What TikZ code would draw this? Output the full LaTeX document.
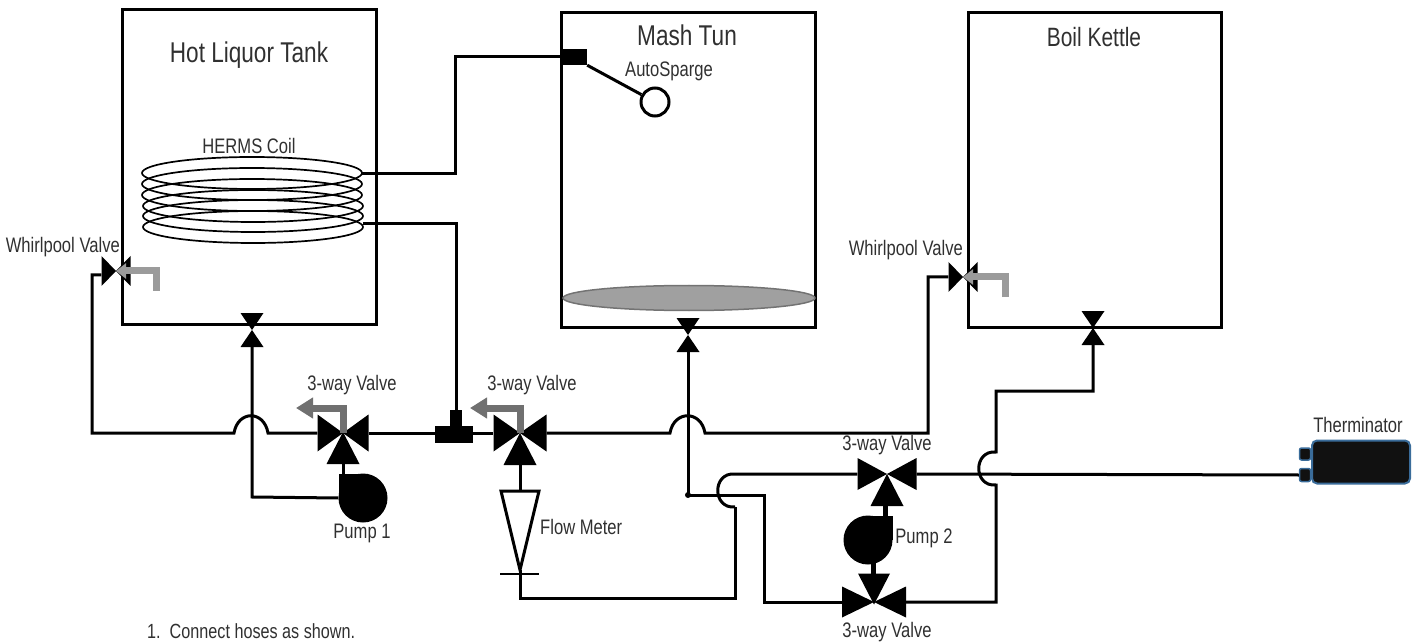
\documentclass[tikz,border=0pt]{standalone}
\usepackage{fontspec}
\setmainfont[FakeStretch=0.79]{Liberation Sans}
\usetikzlibrary{calc,arrows.meta,shapes.geometric}
\definecolor{labelgray}{HTML}{303030}
\definecolor{handlegray}{HTML}{707070}
\definecolor{discgray}{HTML}{A0A0A0}
\definecolor{chillblue}{HTML}{3A6C9A}
\definecolor{chillblack}{HTML}{111111}

\begin{document}
\begin{tikzpicture}[x=1pt,y=-1pt,
  tank/.style={rectangle,draw,line width=3pt,inner sep=0pt},
  pipe/.style={line width=3pt,line join=miter},
  lab/.style={font=\fontsize{21}{24}\selectfont,text=labelgray,inner sep=0pt},
  title/.style={font=\fontsize{28.6}{32}\selectfont,text=labelgray,inner sep=0pt},
  coil/.style={line width=1.7pt},
  hvalve/.style={rectangle,inner sep=0pt,minimum width=#1,minimum height=37pt,
    path picture={\fill (path picture bounding box.north west) -- (path picture bounding box.south east) -- (path picture bounding box.north east) -- (path picture bounding box.south west) -- cycle;}},
  wvalve/.style={rectangle,inner sep=0pt,minimum width=29pt,minimum height=30pt,
    path picture={\fill (path picture bounding box.north west) -- (path picture bounding box.south east) -- (path picture bounding box.north east) -- (path picture bounding box.south west) -- cycle;}},
  vvalve/.style={rectangle,inner sep=0pt,minimum width=23pt,minimum height=34pt,
    path picture={\fill (path picture bounding box.north west) -- (path picture bounding box.north east) -- (path picture bounding box.south west) -- (path picture bounding box.south east) -- cycle;}},
  wedgeup/.style={rectangle,inner sep=0pt,minimum width=33pt,minimum height=32pt,
    path picture={\fill (path picture bounding box.north) -- (path picture bounding box.south east) -- (path picture bounding box.south west) -- cycle;}},
  wedgedown/.style={rectangle,inner sep=0pt,minimum width=32pt,minimum height=31pt,
    path picture={\fill (path picture bounding box.south) -- (path picture bounding box.north east) -- (path picture bounding box.north west) -- cycle;}},
  handle/.style={line width=7pt,handlegray,-{Triangle[length=17pt,width=20pt]}},
  whirlhandle/.style={line width=7pt,handlegray!70!white,-{Triangle[length=10pt,width=15pt]}},
  pump/.style={circle,fill,inner sep=0pt,minimum size=49pt},
  hopup/.style={to path={.. controls ($(\tikztostart)+(4,-23)$) and ($(\tikztotarget)+(-4,-23)$) .. (\tikztotarget)}},
  hopleft/.style={to path={.. controls ($(\tikztostart)+(-23,2)$) and ($(\tikztotarget)+(-23,-2)$) .. (\tikztotarget)}},
]
\useasboundingbox (0,0) rectangle (1413,644);

% Tanks
\node[tank,minimum width=254pt,minimum height=314pt] (hlt) at (249,167) {};
\node[tank,minimum width=254pt,minimum height=314pt] (mash) at (688,170) {};
\node[tank,minimum width=253pt,minimum height=314pt] (boil) at (1094.5,170) {};
\node[title] (hltlab) at (249,55) {Hot Liquor Tank};
\node[title] (mashlab) at (687,35) {Mash Tun};
\node[title,font=\fontsize{26.5}{30}\selectfont] (boillab) at (1094,37) {Boil Kettle};

% Coil
\draw[coil] (252,173) ellipse [x radius=110,y radius=16];
\draw[coil] (252,184) ellipse [x radius=110,y radius=16];
\draw[coil] (252,195) ellipse [x radius=110,y radius=16];
\draw[coil] (253,206) ellipse [x radius=110,y radius=16];
\draw[coil] (253,216) ellipse [x radius=110,y radius=16];
\draw[coil] (253,227) ellipse [x radius=110,y radius=16];
\node[lab] (coillab) at (249,146) {HERMS Coil};
\coordinate (coilin) at (361,174);
\coordinate (coilout) at (363,224);

% Mash tun insides
\node[ellipse,draw=black!55,fill=discgray,line width=1.5pt,minimum width=252pt,minimum height=25pt,inner sep=0pt] (disc) at (689,298) {};
\node[rectangle,fill,inner sep=0pt,minimum width=26pt,minimum height=16pt] (sparge) at (574,57) {};
\node[circle,draw,line width=3pt,fill=white,minimum size=28pt,inner sep=0pt] (ball) at (655,102) {};
\node[lab] (spargelab) at (669,71) {AutoSparge};
\draw[pipe] (sparge.south east) -- (ball);

% Whirlpool valves
\node[wvalve] (whirlhlt) at (116,271) {};
\node[wvalve] (whirlboil) at (963,277) {};
\node[lab,anchor=east] (whirlhltlab) at (120,247) {Whirlpool Valve};
\node[lab,anchor=east] (whirlboillab) at (963,250) {Whirlpool Valve};
\draw[whirlhandle] (156,291) |- (whirlhlt.center);
\draw[whirlhandle] (1005,297) |- (whirlboil.center);

% Tank outlets
\node[vvalve] (outhlt) at (252,330) {};
\node[vvalve] (outmash) at (688,335) {};
\node[vvalve] (outboil) at (1093,328) {};

% 3-way valves
\node[hvalve=51pt] (way1) at (343,433) {};
\node[wedgeup] (way1w) at (343,448) {};
\node[hvalve=53pt] (way2) at (520,433) {};
\node[wedgeup] (way2w) at (520,449) {};
\node[hvalve=59pt,minimum height=32pt] (way3) at (887,474) {};
\node[wedgeup] (way3w) at (887,490) {};
\node[hvalve=64pt,minimum height=31pt] (way4) at (874,602) {};
\node[wedgedown] (way4w) at (874,589) {};
\node[lab] (way1lab) at (352,385) {3-way Valve};
\node[lab] (way2lab) at (532,385) {3-way Valve};
\node[lab] (way3lab) at (887,445) {3-way Valve};
\node[lab] (way4lab) at (887,632) {3-way Valve};
\draw[handle] (way1.center) |- (296,408);
\draw[handle] (way2.center) |- (470,408);

% T fitting
\node[rectangle,fill,inner sep=0pt,minimum width=38pt,minimum height=17pt] (tee) at (454,434.5) {};
\node[rectangle,fill,inner sep=0pt,minimum width=12pt,minimum height=16pt] (teestem) at (456,418) {};

% Pumps
\node[pump] (pump1) at (363,498) {};
\node[pump] (pump2) at (868,540) {};
\fill (339,474) rectangle (363,498);
\fill (868,516) rectangle (893,540);
\node[lab] (pump1lab) at (362,533) {Pump 1};
\node[lab] (pump2lab) at (924,538) {Pump 2};

% Flow meter
\node[lab,anchor=west] (flowlab) at (540,527) {Flow Meter};
\coordinate (flowtop) at (520,491);
\coordinate (flowtip) at (520,570);
\coordinate (flowbar) at (520,574);
\draw[pipe] (501,491) -- (539,491) -- (flowtip) -- cycle;
\draw[line width=2pt] (500,574) -- (539,574);

% Therminator
\node[rectangle,rounded corners=5pt,draw=chillblue,fill=chillblack,line width=2pt,minimum width=98pt,minimum height=43pt,inner sep=0pt] (chiller) at (1361,462) {};
\node[rectangle,rounded corners=2pt,draw=chillblue,fill=chillblack,line width=1.5pt,minimum width=11pt,minimum height=12pt,inner sep=0pt] (chillin) at (1305,454) {};
\node[rectangle,rounded corners=2pt,draw=chillblue,fill=chillblack,line width=1.5pt,minimum width=11pt,minimum height=13pt,inner sep=0pt] (chillout) at (1305,475) {};
\node[lab] (chillerlab) at (1358,425) {Therminator};

% Crossing points
\coordinate (hop1a) at (234,433);
\coordinate (hop1b) at (268,433);
\coordinate (hop2a) at (670,433);
\coordinate (hop2b) at (705,433);
\coordinate (hop3a) at (735,474);
\coordinate (hop3b) at (735,507);
\coordinate (hop4a) at (996,485);
\coordinate (hop4b) at (996,452);
\coordinate (mashjoin) at (688,495);

% Pipes
\draw[pipe] (coilin) -- (455,174) |- (sparge.west);
\draw[pipe] (coilout) -- (456,224) -- (teestem.north);
\draw[pipe] (whirlhlt.west |- 0,275) -- (92,275) -- (92,433) -- (hop1a) to[hopup] (hop1b) -- (way1.west);
\draw[pipe] (way1.east) -- (way2.west);
\draw[pipe] (way2.east) -- (hop2a) to[hopup] (hop2b) -- (928,433) -- (928,277) -- (whirlboil.west);
\draw[pipe] (outhlt.south) -- (252,497) -- (pump1.west);
\draw[pipe] (way1w.south) -- (343,476);
\draw[pipe] (way2w.south) -- (flowtop);
\draw[pipe] (flowtip) -- (520,598) -- (735,598) -- (hop3b);
\draw[pipe] (hop3b) to[hopleft] (hop3a) -- (way3.west);
\draw[pipe] (outmash.south) -- (mashjoin) -- (764,495) -- (764,602) -- (way4.west);
\fill (mashjoin) circle (3pt);
\draw[pipe] (way3.east) -- (chillout.west);
\draw[pipe] (way4.east) -- (996,602) -- (hop4a) to[hopleft] (hop4b) -- (996,391) -- (1093,391) -- (outboil.south);
\draw[pipe,line width=5pt] (885,506) -- (885,520);
\draw[pipe,line width=5pt] (873,560) -- (873,574);

% Note
\node[lab,anchor=west,font=\fontsize{20.5}{24}\selectfont] (note) at (147,631) {1.\ \ Connect hoses as shown.};

\end{tikzpicture}
\end{document}
